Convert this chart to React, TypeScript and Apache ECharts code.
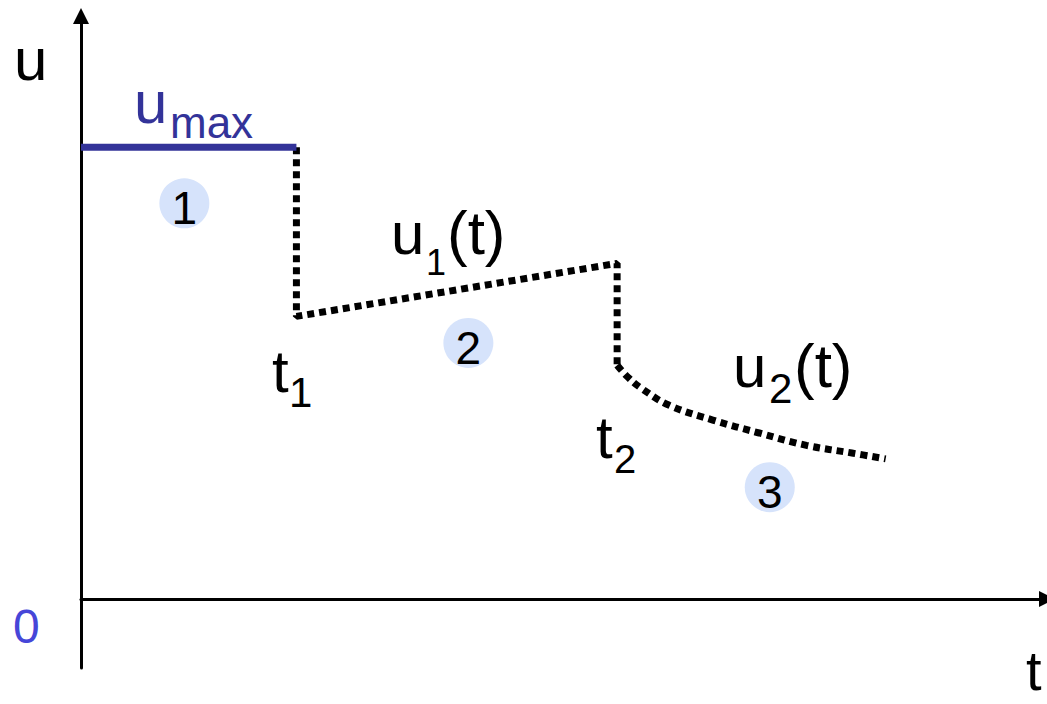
import React, { useEffect, useRef } from "react";
import * as echarts from "echarts";

// ---- data (abstract units: t along x, u along y) ----
const T1 = 2.23;
const T2 = 5.55;
const U_MAX = 7.67;
const umaxSegment: [number, number][] = [[0, U_MAX], [T1, U_MAX]];
const stepSegments: [number, number][] = [
  [T1, U_MAX],
  [T1, 4.8],
  [T2, 5.7],
  [T2, 3.97],
];
const u2Curve: [number, number][] = [
  [T2, 3.97],
  [5.66, 3.77],
  [5.8, 3.58],
  [6.09, 3.29],
  [6.54, 3.04],
  [7.02, 2.82],
  [7.51, 2.61],
  [7.98, 2.48],
  [8.33, 2.38],
];
const phaseNames = ["1", "2", "3"];
const phaseCenters: [number, number][] = [
  [1.07, 6.72],
  [4.01, 4.35],
  [7.13, 1.9],
];

const FONT = '"Liberation Sans", Arial, sans-serif';

function txt(text: string, x: number, baseline: number, size: number, fill = "#000") {
  return {
    type: "text",
    x,
    y: baseline - 0.3465 * size,
    z: 100,
    style: {
      text,
      fontSize: size,
      fontFamily: FONT,
      fill,
      align: "left",
      verticalAlign: "middle",
    },
  };
}

export default function App() {
  const ref = useRef<HTMLDivElement>(null);
  useEffect(() => {
    if (!ref.current) return;
    const chart = echarts.init(ref.current, undefined, { renderer: "svg" });
    const blue = "#333399";
    const dotted = { color: "#000", width: 7, type: [7, 5], cap: "butt" };
    const option: any = {
      animation: false,
      backgroundColor: "#ffffff",
      grid: { left: 81, right: -1, top: 16, bottom: 36 },
      xAxis: {
        type: "value",
        min: 0,
        max: 10,
        axisLine: {
          show: true,
          onZero: true,
          symbol: ["none", "triangle"],
          symbolSize: [16, 16],
          lineStyle: { color: "#000", width: 3 },
        },
        axisTick: { show: false },
        axisLabel: { show: false },
        splitLine: { show: false },
      },
      yAxis: {
        type: "value",
        min: -1.17,
        max: 9.9,
        axisLine: {
          show: true,
          onZero: false,
          symbol: ["none", "triangle"],
          symbolSize: [16, 16],
          lineStyle: { color: "#000", width: 3 },
        },
        axisTick: { show: false },
        axisLabel: { show: false },
        splitLine: { show: false },
      },
      series: [
        {
          type: "line",
          data: umaxSegment,
          symbol: "none",
          lineStyle: { color: blue, width: 7, cap: "butt" },
          z: 5,
        },
        {
          type: "line",
          data: stepSegments,
          symbol: "none",
          lineStyle: dotted,
          z: 3,
        },
        {
          type: "line",
          data: u2Curve,
          symbol: "none",
          smooth: 0.4,
          lineStyle: dotted,
          z: 3,
        },
        {
          type: "scatter",
          data: phaseCenters.map((c, i) => ({ value: c, name: phaseNames[i] })),
          symbol: "circle",
          symbolSize: 50,
          itemStyle: { color: "#d6e3fb", opacity: 1 },
          label: {
            show: true,
            position: "inside",
            formatter: "{b}",
            color: "#000000",
            opacity: 1,
            textBorderWidth: 0,
            textShadowBlur: 0,
            fontSize: 46,
            fontFamily: FONT,
            offset: [0, 5],
          },
          emphasis: { disabled: true },
          z: 4,
        },
      ],
      graphic: [
        txt("u", 14, 80, 60),
        txt("u", 134, 123, 60, blue),
        txt("max", 170, 138, 44, blue),
        txt("u", 391, 254, 60),
        txt("1", 426, 275, 36),
        txt("(t)", 447, 254, 62),
        txt("t", 272, 392, 60),
        txt("1", 289, 407, 42),
        txt("t", 596, 458, 60),
        txt("2", 614, 473, 40),
        txt("u", 733, 387, 60),
        txt("2", 769, 403, 42),
        txt("(t)", 794, 387, 62),
        txt("0", 13, 643, 48, "#4646d8"),
        txt("t", 1026, 690, 56),
      ],
    };
    chart.setOption(option);
    return () => chart.dispose();
  }, []);
  return (
    <div
      ref={ref}
      style={{ position: "fixed", left: 0, top: 0, width: 1047, height: 704, background: "#fff" }}
    />
  );
}
